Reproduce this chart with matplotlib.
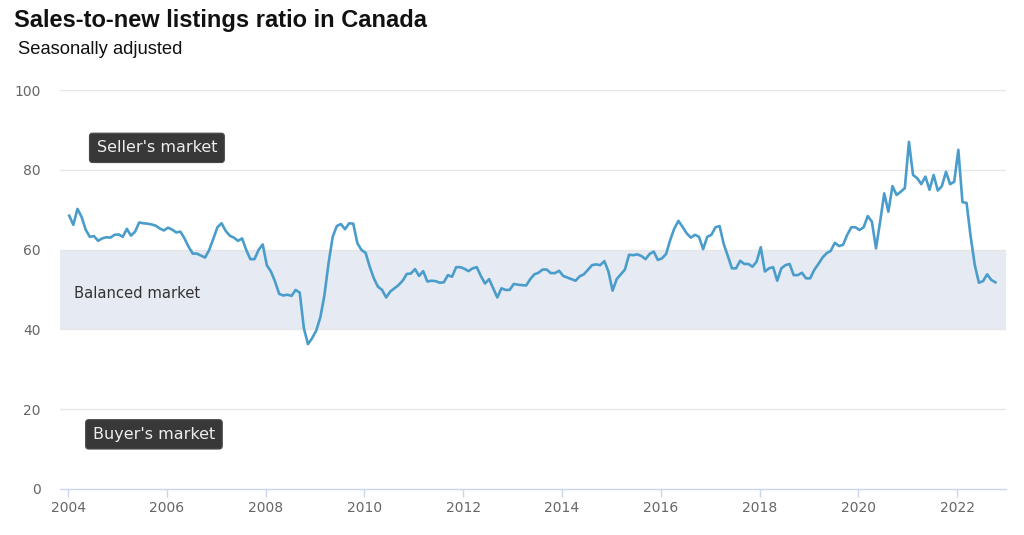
""" snlr_canada.py

Sales-to-new listings ratio in Canada, seasonally adjusted, monthly
Jan 2004 .. Oct 2022. Values read off the published chart.
"""

import numpy as np
import matplotlib
matplotlib.use('Agg')
import matplotlib.pyplot as plt

# monthly ratio, one list per year
snlr_2004 = [68.5, 66.2, 70.2, 68.2, 65.0, 63.2, 63.4, 62.2, 62.8, 63.1, 63.0, 63.7]
snlr_2005 = [63.8, 63.2, 65.2, 63.5, 64.5, 66.8, 66.6, 66.5, 66.3, 66.0, 65.3, 64.8]
snlr_2006 = [65.5, 65.0, 64.3, 64.5, 62.8, 60.7, 59.0, 59.0, 58.5, 58.0, 59.9, 62.7]
snlr_2007 = [65.6, 66.6, 64.7, 63.5, 63.0, 62.2, 62.8, 59.9, 57.6, 57.6, 59.9, 61.3]
snlr_2008 = [56.1, 54.5, 52.0, 48.9, 48.5, 48.7, 48.4, 49.9, 49.2, 40.3, 36.3, 37.8]
snlr_2009 = [39.7, 43.0, 48.6, 56.6, 63.2, 65.9, 66.4, 65.1, 66.6, 66.5, 61.6, 59.9]
snlr_2010 = [59.2, 55.7, 52.8, 50.7, 49.9, 48.0, 49.5, 50.3, 51.1, 52.2, 53.9, 54.0]
snlr_2011 = [55.1, 53.4, 54.6, 52.0, 52.2, 52.1, 51.7, 51.8, 53.6, 53.2, 55.6, 55.6]
snlr_2012 = [55.2, 54.6, 55.3, 55.6, 53.4, 51.5, 52.6, 50.3, 48.0, 50.3, 49.9, 49.9]
snlr_2013 = [51.4, 51.2, 51.1, 51.0, 52.6, 53.8, 54.2, 55.0, 55.0, 54.1, 54.1, 54.7]
snlr_2014 = [53.4, 53.0, 52.6, 52.2, 53.3, 53.8, 54.9, 56.1, 56.3, 56.1, 57.1, 54.5]
snlr_2015 = [49.7, 52.6, 53.8, 55.0, 58.7, 58.6, 58.8, 58.4, 57.6, 58.9, 59.5, 57.4]
snlr_2016 = [57.8, 58.9, 62.4, 65.3, 67.2, 65.7, 64.1, 63.0, 63.7, 63.2, 60.1, 63.2]
snlr_2017 = [63.7, 65.6, 65.9, 61.4, 58.4, 55.3, 55.3, 57.2, 56.4, 56.4, 55.7, 57.0]
snlr_2018 = [60.6, 54.5, 55.3, 55.6, 52.2, 55.3, 56.1, 56.4, 53.6, 53.6, 54.2, 52.8]
snlr_2019 = [52.8, 54.9, 56.4, 58.0, 59.1, 59.7, 61.7, 60.9, 61.2, 63.7, 65.6, 65.6]
snlr_2020 = [64.9, 65.6, 68.4, 67.0, 60.3, 67.0, 74.1, 69.5, 75.9, 73.7, 74.5, 75.4]
snlr_2021 = [87.0, 78.7, 77.9, 76.4, 78.3, 75.0, 78.7, 74.8, 75.9, 79.5, 76.4, 77.0]
snlr_2022 = [85.0, 71.9, 71.7, 63.2, 56.1, 51.7, 52.1, 53.8, 52.4, 51.8]

year_ticks = [2004, 2006, 2008, 2010, 2012, 2014, 2016, 2018, 2020, 2022]
y_ticks = [0, 20, 40, 60, 80, 100]
balanced_band = (40, 60)

LINE_COLOR = '#4a9dcb'
BAND_COLOR = '#e6eaf3'
GRID_COLOR = '#e6e6e6'
AXIS_COLOR = '#ccd6eb'
LABEL_COLOR = '#666666'


def build_series():
    """stitch the yearly lists into one monthly series with fractional-year x"""
    values = []
    for yr in (snlr_2004, snlr_2005, snlr_2006, snlr_2007, snlr_2008, snlr_2009,
               snlr_2010, snlr_2011, snlr_2012, snlr_2013, snlr_2014, snlr_2015,
               snlr_2016, snlr_2017, snlr_2018, snlr_2019, snlr_2020, snlr_2021,
               snlr_2022):
        values.extend(yr)
    # points sit a touch after the start of each month on the original
    x = 2004 + (np.arange(len(values)) + 0.3) / 12.0
    return x, np.array(values)


def main():
    x, y = build_series()

    fig = plt.figure(figsize=(10.24, 5.35), dpi=100)
    ax = fig.add_axes([60 / 1024, 1 - 489 / 535, 946 / 1024, 399 / 535])

    ax.axhspan(*balanced_band, color=BAND_COLOR, lw=0, zorder=0)
    for v in y_ticks[1:]:
        ax.axhline(v, color=GRID_COLOR, lw=1, zorder=0.5)
    ax.plot(x, y, color=LINE_COLOR, lw=1.9, zorder=3, solid_joinstyle='round')

    ax.set_xlim(2003.838, 2022.99)
    ax.set_ylim(0, 100)

    for side in ('top', 'right', 'left'):
        ax.spines[side].set_visible(False)
    ax.spines['bottom'].set_color(AXIS_COLOR)
    ax.spines['bottom'].set_linewidth(1)

    ax.set_xticks(year_ticks)
    ax.set_xticklabels([str(t) for t in year_ticks])
    ax.set_yticks(y_ticks)
    ax.set_yticklabels([str(t) for t in y_ticks])
    ax.tick_params(axis='x', colors=LABEL_COLOR, labelsize=10, length=6,
                   width=1, color=AXIS_COLOR, pad=3)
    ax.tick_params(axis='y', colors=LABEL_COLOR, labelsize=10, length=0, pad=14)

    box = dict(boxstyle='round,pad=0.45,rounding_size=0.2', fc='#383838',
               ec='#4a4a4a', lw=0.8)
    ax.text(2005.80, 85.5, "Seller's market", color='#eeeeee', fontsize=11.5,
            ha='center', va='center', bbox=box, zorder=5)
    ax.text(2005.74, 13.7, "Buyer's market", color='#eeeeee', fontsize=11.5,
            ha='center', va='center', bbox=box, zorder=5)
    ax.text(2004.12, 49.1, 'Balanced market', color='#333333', fontsize=10.6,
            ha='left', va='center', zorder=5)

    fig.text(14 / 1024, 1 - 21 / 535, 'Sales-to-new listings ratio in Canada',
             family='Liberation Sans', weight='bold', fontsize=17,
             ha='left', va='center', color='#111111')
    fig.text(18 / 1024, 1 - 49 / 535, 'Seasonally adjusted',
             family='Liberation Sans', fontsize=13.2,
             ha='left', va='center', color='#111111')

    fig.savefig('out.png', dpi=100)


if __name__ == '__main__':
    main()
